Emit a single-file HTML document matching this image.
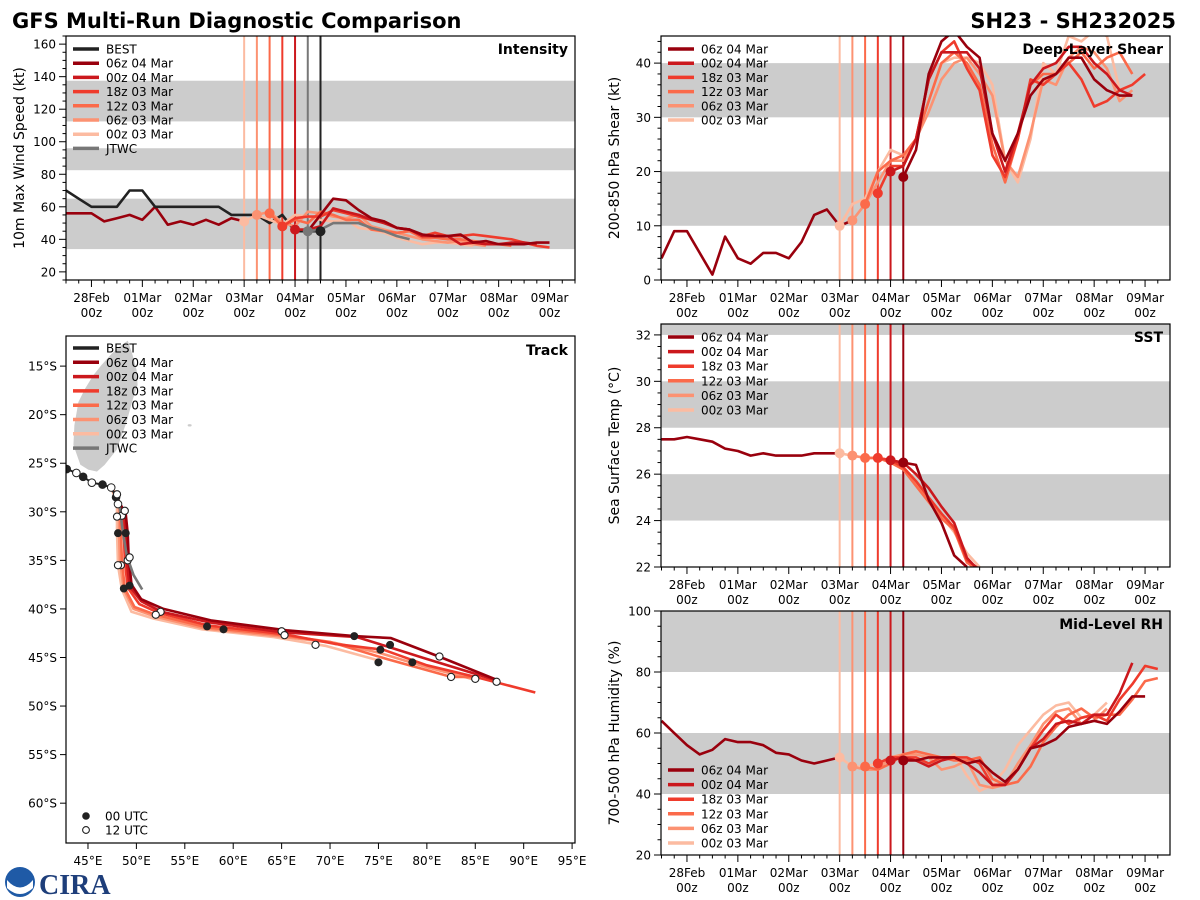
<!DOCTYPE html>
<html><head><meta charset="utf-8">
<style>
html,body{margin:0;padding:0;background:#fff;}
svg{display:block;font-family:"DejaVu Sans","Liberation Sans",sans-serif;}
</style></head>
<body>
<svg id="chart" width="1200" height="900" viewBox="0 0 1200 900" xmlns="http://www.w3.org/2000/svg">
<text x="12" y="28" font-size="21" font-weight="bold" fill="#000">GFS Multi-Run Diagnostic Comparison</text>
<text x="1176" y="28" font-size="21" font-weight="bold" fill="#000" text-anchor="end">SH23 - SH232025</text>
<g>
<circle cx="20" cy="882" r="15" fill="#1f5aa6"/>
<path d="M7 880 Q20 895 33 880 L33 888 Q20 900 7 888Z" fill="#fff"/>
</g>
<g>
<text x="39" y="894" font-size="28" font-weight="bold" fill="#1e3e7a" font-family="Liberation Serif, serif">CIRA</text>
</g>
<polygon fill="#cccccc" stroke="#ffffff" stroke-width="0.8"
 points="128,340 133,355 137,370 138,385 133,400 127,422 117,450 105,465 97,472 88,470 80,465 73,445 74,425 78,402 85,388 93,375 101,365 110,355 118,347"/>
</svg>
<script>
const svg = document.getElementById('chart');
const NS = 'http://www.w3.org/2000/svg';
function mk(tag, attrs, parent){ const e=document.createElementNS(NS,tag); for(const k in attrs) e.setAttribute(k,attrs[k]); (parent||svg).appendChild(e); return e; }

// ---------- shared data ----------
const dayLabels = ['28Feb','01Mar','02Mar','03Mar','04Mar','05Mar','06Mar','07Mar','08Mar','09Mar'];
const runNames = ['06z 04 Mar','00z 04 Mar','18z 03 Mar','12z 03 Mar','06z 03 Mar','00z 03 Mar'];
const runColors = ['#99000d','#cb181d','#ef3b2c','#fb6a4a','#fc9272','#fcbba1'];
const runStarts = [4.25, 4.0, 3.75, 3.5, 3.25, 3.0]; // days since 28Feb 00z

// Intensity (kt)
const bestStart = -0.5;
const bestVmax = [70,65,60,60,60,70,70,60,60,60,60,60,60,55,55,55,50,55,45,45,45];
const histStart = -0.5;
const histVmax = [56,56,56,51,53,55,52,60,49,51,49,52,49,53,51];
const jtwcStart = 4.25;
const jtwcVmax = [45,46,50,50,50,47,45,42,40];
const fcVmax06z04 = [45,55,65,64,58,53,51,47,46,43,42,42,43,38,39,37,37,37,38,38];
const fcVmax00z04 = [46,46,48,59,57,55,52,50,47,46,42,42,42,37,38,37,37,38,38,37];
const fcVmax18z03 = [48,53,54,54,58,56,54,52,51,47,46,42,44,42,42,43,42,41,40,38,36,35];
const fcVmax12z03 = [56,48,52,50,57,55,52,52,46,45,44,45,41,41,40,40,39,38,37,36];
const fcVmax06z03 = [55,57,50,48,57,56,54,53,55,48,46,44,42,40,39,38,39,37,36];
const fcVmax00z03 = [51,55,52,49,55,54,52,51,52,47,46,44,41,39,37,38,38,37,36];

// Shear (kt)
const histShear = [4,9,9,5,1,8,4,3,5,5,4,7,12,13,10,11];
const fcShear06z04 = [19,24,38,44,46,43,41,27,22,27,34,37,38,41,41,37,35,34,34];
const fcShear00z04 = [20,21,26,37,42,42,42,39,27,20,27,36,39,40,43,43,40,38,35,34];
const fcShear18z03 = [16,21,21,26,37,42,44,39,35,23,19,26,37,36,38,40,37,32,33,35,36,38];
const fcShear12z03 = [14,20,22,23,26,33,40,42,40,36,25,18,26,36,38,38,40,42,39,41,42,38];
const fcShear06z03 = [11,14,18,22,22,26,31,37,40,41,38,34,22,19,27,37,36,41,43,42,39,33,35];
const fcShear00z03 = [10,14,15,20,24,23,26,33,40,41,41,40,36,22,18,26,40,38,45,44,46,45,35];

// SST (C)
const histSST = [27.5,27.5,27.6,27.5,27.4,27.1,27.0,26.8,26.9,26.8,26.8,26.8,26.9,26.9,26.9];
const fcSST06z04 = [26.5,26.4,24.9,23.9,22.5,22.0];
const fcSST00z04 = [26.6,26.5,26.0,25.4,24.6,23.9,22.4,21.8];
const fcSST18z03 = [26.7,26.6,26.3,25.7,25.0,24.3,23.7,22.3,21.9];
const fcSST12z03 = [26.7,26.7,26.5,26.2,25.5,24.8,24.1,23.6,22.2,21.8];
const fcSST06z03 = [26.8,26.7,26.7,26.6,26.3,25.6,24.9,24.2,23.6,22.3,21.8];
const fcSST00z03 = [26.9,26.8,26.7,26.7,26.6,26.3,25.7,25.0,24.2,23.5,22.6,22.0];

// RH (%)
const histRH = [64,60,56,53,54.5,58,57,57,56,53.5,53,51,50,51,52];
const fcRH06z04 = [51,51,52,52,52,50,51,47,44,48,55,56,58,62,63,64,63,67,72,72];
const fcRH00z04 = [51,52,51,49,51,52,50,47,43,43,48,55,58,63,64,63,66,66,73,83];
const fcRH18z03 = [50,52,52,52,50,52,52,52,50,43,43,48,55,61,66,63,65,66,64,71,76,82,81];
const fcRH12z03 = [49,48,50,53,54,53,52,51,51,52,45,43,44,49,57,62,66,68,65,66,66,71,77,78];
const fcRH06z03 = [49,48,48,52,53,53,52,48,49,51,43,42,43,50,56,63,67,68,63,64,68];
const fcRH00z03 = [52,49,49,50,52,53,53,52,51,53,46,41,43,48,56,61,66,69,70,65,66,70];

// Track (lon E, lat S)
const bestTrack = [[42.8,25.6],[43.8,26.0],[44.5,26.4],[45.4,27.0],[46.5,27.2],[47.4,27.5],[47.9,28.5],[48.1,29.2]];
const jtwcTrack = [[48.2,29.0],[48.6,32.0],[49.0,34.5],[49.7,36.5],[50.6,38.0]];
const trk06z04 = [[48.2,29.0],[48.9,30.2],[49.1,32.2],[49.2,34.5],[49.5,37.5],[50.5,39.0],[52.8,40.0],[57.8,41.2],[65.5,42.2],[72.5,42.8],[76.3,43.0],[81.5,45.0],[87.0,47.2]];
const trk00z04 = [[48.0,28.5],[48.7,30.0],[48.9,32.2],[49.0,35.0],[49.3,37.7],[50.5,39.2],[52.6,40.3],[57.6,41.4],[65.0,42.4],[72.8,42.9],[76.0,43.9],[79.5,45.0],[87.0,47.3]];
const trk18z03 = [[47.8,28.0],[48.5,29.8],[48.7,32.0],[48.8,35.0],[49.1,37.8],[50.3,39.5],[52.3,40.4],[57.4,41.7],[65.3,42.6],[70.5,43.6],[75.5,44.2],[80.0,45.8],[85.0,47.0],[91.2,48.6]];
const trk12z03 = [[47.5,27.5],[48.3,29.5],[48.4,32.0],[48.5,35.0],[48.8,37.9],[49.8,39.8],[52.0,40.6],[57.3,41.9],[65.0,42.7],[70.0,43.4],[76.0,45.2],[82.5,47.0],[85.5,47.0]];
const trk06z03 = [[47.4,27.4],[48.2,29.3],[48.2,32.0],[48.3,35.0],[48.7,38.0],[49.7,40.0],[52.0,40.8],[57.0,42.0],[64.5,42.8],[70.5,43.5],[75.0,44.5],[80.0,46.0],[85.0,47.3]];
const trk00z03 = [[47.3,27.3],[48.0,29.0],[48.0,32.0],[48.1,35.5],[48.5,38.0],[49.5,40.3],[51.8,41.0],[56.8,42.1],[64.2,42.9],[69.5,43.8],[75.0,45.3]];
const trk00Dots = [[48.1,32.2],[48.7,37.9],[57.3,41.8],[59.0,42.1],[72.5,42.8],[75.2,44.2],[76.2,43.7],[78.5,45.5],[75.0,45.5],[48.9,32.2],[49.3,37.6]];
const trk12Dots = [[48.0,28.2],[48.5,30.4],[48.0,30.5],[48.4,35.5],[48.1,35.5],[52.5,40.3],[52.0,40.6],[65.0,42.3],[65.3,42.7],[68.5,43.7],[81.3,44.9],[82.5,47.0],[85.0,47.2],[87.2,47.5],[48.8,29.9],[49.1,35.0],[49.3,34.7]];

const runVmax=[fcVmax06z04,fcVmax00z04,fcVmax18z03,fcVmax12z03,fcVmax06z03,fcVmax00z03];
const runShear=[fcShear06z04,fcShear00z04,fcShear18z03,fcShear12z03,fcShear06z03,fcShear00z03];
const runSST=[fcSST06z04,fcSST00z04,fcSST18z03,fcSST12z03,fcSST06z03,fcSST00z03];
const runRH=[fcRH06z04,fcRH00z04,fcRH18z03,fcRH12z03,fcRH06z03,fcRH00z03];
const runTrack=[trk06z04,trk00z04,trk18z03,trk12z03,trk06z03,trk00z03];

let clipId=0;
function panel(cfg){
  const {x0,y0,w,h,ymin,ymax,tmin,tmax,name}=cfg;
  const g=mk('g',{});
  
  
  const xs=t=>x0+(t-tmin)/(tmax-tmin)*w;
  const ys=v=>y0+h-(v-ymin)/(ymax-ymin)*h;
  const cid='clip'+(clipId++);
  const cp=mk('clipPath',{id:cid},g); mk('rect',{x:x0,y:y0,width:w,height:h},cp);
  const inner=mk('g',{'clip-path':'url(#'+cid+')'},g);
  cfg.bands.forEach(b=>{
    const r=mk('rect',{x:x0,y:ys(b[1]),width:w,height:ys(b[0])-ys(b[1]),fill:'#cccccc'},inner);
    
    
  });
  function line(start,vals,color,lw,nm){
    const pts=vals.map((v,i)=>xs(start+i*0.25).toFixed(1)+','+ys(v).toFixed(1)).join(' ');
    const p=mk('polyline',{points:pts,fill:'none',stroke:color,'stroke-width':lw,'stroke-linejoin':'round'},inner);
    
    
  }
  cfg.vlines.forEach(v=>{
    const l=mk('line',{x1:xs(v[0]),x2:xs(v[0]),y1:y0,y2:y0+h,stroke:v[1],'stroke-width':2},inner);
    
    
  });
  cfg.series.forEach(s=>line(s.start,s.vals,s.color,s.lw||2.6,s.nm));
  cfg.dots.forEach(d=>{
    const c=mk('circle',{cx:xs(d[0]),cy:ys(d[1]),r:5,fill:d[2]},inner);
    
    
  });
  const fr=mk('rect',{x:x0,y:y0,width:w,height:h,fill:'none',stroke:'#000','stroke-width':1.2},g);
  
  
  for(let t=Math.ceil(tmin*4)/4;t<=tmax;t+=0.25){
    const major=Math.abs(t-Math.round(t))<1e-6;
    mk('line',{x1:xs(t),x2:xs(t),y1:y0+h,y2:y0+h+(major?7:3.5),stroke:'#000','stroke-width':1},g);
  }
  dayLabels.forEach((lab,i)=>{
    const t1=mk('text',{x:xs(i),y:y0+h+22,'font-size':12,'text-anchor':'middle',fill:'#000'},g); t1.textContent=lab;
    
    
    const t2=mk('text',{x:xs(i),y:y0+h+37,'font-size':12,'text-anchor':'middle',fill:'#000'},g); t2.textContent='00z';
  });
  for(let v=Math.ceil(ymin/cfg.minor)*cfg.minor;v<=ymax+1e-6;v+=cfg.minor){
    const major=Math.abs(v/cfg.major-Math.round(v/cfg.major))<1e-6;
    mk('line',{x1:x0,x2:x0-(major?7:3.5),y1:ys(v),y2:ys(v),stroke:'#000','stroke-width':1},g);
    if(major){ const t=mk('text',{x:x0-10,y:ys(v)+4.5,'font-size':12,'text-anchor':'end',fill:'#000'},g); t.textContent=String(v);
      
       }
  }
  const yl=mk('text',{x:0,y:0,'font-size':14,'text-anchor':'middle',fill:'#000',transform:`translate(${x0-42},${y0+h/2}) rotate(-90)`},g);
  yl.textContent=cfg.ylabel;
  
  
  const tt=mk('text',{x:x0+w-7,y:y0+18,'font-size':14,'font-weight':'bold','text-anchor':'end',fill:'#000'},g);
  tt.textContent=cfg.title;
  
  
  cfg.legend.items.forEach((it,i)=>{
    const y=cfg.legend.y+i*cfg.legend.dy;
    const lg=mk('g',{},g);
    
    
    mk('line',{x1:x0+7,x2:x0+33,y1:y,y2:y,stroke:it[1],'stroke-width':3.5},lg);
    const t=mk('text',{x:x0+40,y:y+4.5,'font-size':12,fill:'#000'},lg); t.textContent=it[0];
  });
}

function runSeries(arrs){ return arrs.map((a,i)=>({start:runStarts[i],vals:a,color:runColors[i],nm:'forecast-'+runNames[i].replace(/ /g,'-').toLowerCase()})).reverse(); }
const runLegend=runNames.map((n,i)=>[n,runColors[i]]);
const runV=runStarts.map((s,i)=>[s,runColors[i]]).reverse();
function runDots(arrs){ return arrs.map((a,i)=>[runStarts[i],a[0],runColors[i]]).reverse(); }

panel({name:'intensity',x0:66,y0:36,w:509,h:244,ymin:15,ymax:165,tmin:-0.5,tmax:9.5,major:20,minor:5,
  bands:[[34,65],[82.5,96],[112.5,137.5]],ylabel:'10m Max Wind Speed (kt)',title:'Intensity',
  vlines:[[3,'#fcbba1'],[3.25,'#fc9272'],[3.5,'#fb6a4a'],[3.75,'#ef3b2c'],[4,'#cb181d'],[4.25,'#777777'],[4.5,'#222222']],
  series:[{start:histStart,vals:histVmax,color:'#99000d',nm:'history-intensity'},
          {start:bestStart,vals:bestVmax,color:'#222222',nm:'best-track-intensity'},
          ...runSeries(runVmax),
          {start:jtwcStart,vals:jtwcVmax,color:'#777777',nm:'jtwc-intensity'}],
  dots:[...runDots(runVmax).slice(0,5),[4.25,jtwcVmax[0],'#777777'],[4.5,bestVmax[bestVmax.length-1],'#222222']],
  legend:{y:49,dy:14.2,items:[['BEST','#222222'],...runLegend,['JTWC','#777777']]}});
panel({name:'shear',x0:661,y0:36,w:509,h:244,ymin:0,ymax:45,tmin:-0.51,tmax:9.49,major:10,minor:2,
  bands:[[10,20],[30,40]],ylabel:'200-850 hPa Shear (kt)',title:'Deep-Layer Shear',vlines:runV,
  series:[{start:-0.5,vals:histShear,color:'#99000d',nm:'history-shear'},...runSeries(runShear)],
  dots:runDots(runShear),legend:{y:49,dy:14.2,items:runLegend}});
panel({name:'sst',x0:661,y0:324,w:509,h:243,ymin:22,ymax:32.47,tmin:-0.51,tmax:9.49,major:2,minor:0.5,
  bands:[[24,26],[28,30],[32,33]],ylabel:'Sea Surface Temp (°C)',title:'SST',vlines:runV,
  series:[{start:-0.5,vals:histSST,color:'#99000d',nm:'history-sst'},...runSeries(runSST)],
  dots:runDots(runSST),legend:{y:337,dy:14.6,items:runLegend}});
panel({name:'rh',x0:661,y0:611,w:509,h:244,ymin:20,ymax:100,tmin:-0.51,tmax:9.49,major:20,minor:5,
  bands:[[40,60],[80,100]],ylabel:'700-500 hPa Humidity (%)',title:'Mid-Level RH',vlines:runV,
  series:[{start:-0.5,vals:histRH,color:'#99000d',nm:'history-rh'},...runSeries(runRH)],
  dots:runDots(runRH),legend:{y:770,dy:14.6,items:runLegend}});

(function(){
  const x0=66,y0=336,w=509,h=507;
  const lonMin=42.73,lonMax=95.3,latMin=11.9,latMax=64.1;
  const xs=lon=>x0+(lon-lonMin)/(lonMax-lonMin)*w;
  const ys=lat=>y0+(lat-latMin)/(latMax-latMin)*h;
  const g=mk('g',{});
  
  
  const cp=mk('clipPath',{id:'trkclip'},g); mk('rect',{x:x0,y:y0,width:w,height:h},cp);
  const inner=mk('g',{'clip-path':'url(#trkclip)'},g);
  mk('ellipse',{cx:xs(55.5),cy:ys(21.1),rx:2,ry:1.2,fill:'#ccc'},inner);
  function path(pts,color,lw,nm){
    const p=mk('polyline',{points:pts.map(q=>xs(q[0]).toFixed(1)+','+ys(q[1]).toFixed(1)).join(' '),fill:'none',stroke:color,'stroke-width':lw,'stroke-linejoin':'round'},inner);
    
    
  }
  for(let i=runTrack.length-1;i>=0;i--) path(runTrack[i],runColors[i],2.6,'track-'+runNames[i].replace(/ /g,'-').toLowerCase());
  path(jtwcTrack,'#777777',2.6,'track-jtwc');
  path(bestTrack,'#222222',2,'track-best');
  bestTrack.forEach((p,i)=>{ const c=mk('circle',{cx:xs(p[0]),cy:ys(p[1]),r:3.8,fill:i%2?'#fff':'#222',stroke:'#222','stroke-width':1},inner);
    
     });
  trk00Dots.forEach(p=>{ const c=mk('circle',{cx:xs(p[0]),cy:ys(p[1]),r:4,fill:'#222'},inner);
    
     });
  trk12Dots.forEach(p=>{ const c=mk('circle',{cx:xs(p[0]),cy:ys(p[1]),r:3.6,fill:'#fff',stroke:'#222','stroke-width':1.1},inner);
    
     });
  const fr=mk('rect',{x:x0,y:y0,width:w,height:h,fill:'none',stroke:'#000','stroke-width':1.2},g);
  
  
  for(let lon=45;lon<=95;lon+=5){
    mk('line',{x1:xs(lon),x2:xs(lon),y1:y0+h,y2:y0+h+6,stroke:'#000'},g);
    const t=mk('text',{x:xs(lon),y:y0+h+22,'font-size':12,'text-anchor':'middle'},g); t.textContent=lon+'°E';
    
    
  }
  for(let lat=15;lat<=60;lat+=5){
    mk('line',{x1:x0,x2:x0-6,y1:ys(lat),y2:ys(lat),stroke:'#000'},g);
    const t=mk('text',{x:x0-9,y:ys(lat)+4.5,'font-size':12,'text-anchor':'end'},g); t.textContent=lat+'°S';
    
    
  }
  const tt=mk('text',{x:x0+w-7,y:y0+19,'font-size':14,'font-weight':'bold','text-anchor':'end'},g); tt.textContent='Track';
  
  
  const items=[['BEST','#222222'],...runLegend,['JTWC','#777777']];
  items.forEach((it,i)=>{
    const y=348+i*14.3;
    const lg=mk('g',{},g);
    
    
    mk('line',{x1:x0+7,x2:x0+33,y1:y,y2:y,stroke:it[1],'stroke-width':3.5},lg);
    const t=mk('text',{x:x0+40,y:y+4.5,'font-size':12},lg); t.textContent=it[0];
  });
  const l1=mk('g',{},g);
  
  
  mk('circle',{cx:86,cy:816,r:3.8,fill:'#222'},l1);
  const a=mk('text',{x:105,y:820.5,'font-size':12},l1); a.textContent='00 UTC';
  const l2=mk('g',{},g);
  
  
  mk('circle',{cx:86,cy:830,r:3.4,fill:'#fff',stroke:'#222','stroke-width':1.1},l2);
  const b=mk('text',{x:105,y:834.5,'font-size':12},l2); b.textContent='12 UTC';
})();
</script>
</body></html>
